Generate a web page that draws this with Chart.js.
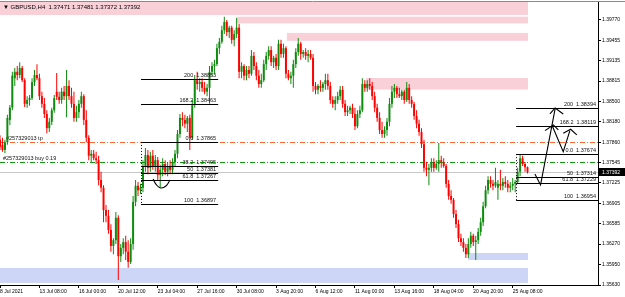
<!DOCTYPE html>
<html>
<head>
<meta charset="utf-8">
<script src="https://cdn.jsdelivr.net/npm/chart.js@4.4.0/dist/chart.umd.min.js"></script>
<style>
  html,body{margin:0;padding:0;background:#fff}
  #wrap{width:625px;height:297px;position:relative}
</style>
</head>
<body>
<div id="wrap"><canvas id="c" width="625" height="297"></canvas></div>
<script>
// GBPUSD H4 candles, one entry per bar (bar index = position on the time axis)
const symbol = 'GBPUSD,H4';
const opens = [
1.3790,1.3782,1.3774,1.3786,1.3821,1.3840,1.3886,1.3896,1.3891,1.3902,
1.3883,1.3846,1.3852,1.3855,1.3880,1.3891,1.3886,1.3858,1.3846,1.3830,
1.3808,1.3818,1.3836,1.3865,1.3857,1.3852,1.3865,1.3858,1.3874,1.3858,
1.3846,1.3824,1.3833,1.3846,1.3858,1.3821,1.3793,1.3765,1.3768,1.3761,
1.3758,1.3727,1.3715,1.3680,1.3671,1.3649,1.3624,1.3633,1.3668,1.3608,
1.3621,1.3630,1.3615,1.3599,1.3627,1.3693,1.3718,1.3711,1.3715,1.3749,
1.3766,1.3746,1.3765,1.3749,1.3758,1.3735,1.3743,1.3752,1.3740,1.3749,
1.3743,1.3755,1.3768,1.3799,1.3824,1.3821,1.3815,1.3824,1.3793,1.3844,
1.3883,1.3877,1.3880,1.3871,1.3865,1.3871,1.3896,1.3905,1.3908,1.3933,
1.3943,1.3961,1.3974,1.3958,1.3965,1.3946,1.3955,1.3965,1.3896,1.3905,
1.3890,1.3899,1.3893,1.3921,1.3905,1.3890,1.3877,1.3883,1.3908,1.3921,
1.3930,1.3911,1.3918,1.3905,1.3940,1.3924,1.3933,1.3893,1.3886,1.3890,
1.3908,1.3927,1.3940,1.3924,1.3927,1.3921,1.3924,1.3918,1.3874,1.3868,
1.3874,1.3871,1.3877,1.3883,1.3874,1.3852,1.3846,1.3852,1.3858,1.3868,
1.3846,1.3833,1.3836,1.3840,1.3830,1.3811,1.3830,1.3836,1.3877,1.3871,
1.3877,1.3874,1.3858,1.3840,1.3824,1.3805,1.3799,1.3805,1.3818,1.3846,
1.3865,1.3871,1.3861,1.3858,1.3865,1.3852,1.3871,1.3852,1.3846,1.3827,
1.3815,1.3802,1.3783,1.3746,1.3743,1.3746,1.3755,1.3746,1.3752,1.3758,
1.3755,1.3749,1.3721,1.3702,1.3696,1.3674,1.3658,1.3636,1.3630,1.3621,
1.3611,1.3627,1.3640,1.3630,1.3633,1.3646,1.3661,1.3686,1.3711,1.3727,
1.3721,1.3718,1.3715,1.3721,1.3718,1.3724,1.3721,1.3715,1.3718,1.3721,
1.3724,1.3740,1.3761,1.3752,1.37471];
const highs = [
1.3797,1.3793,1.3790,1.3829,1.3844,1.3896,1.3902,1.3905,1.3911,1.3905,
1.3886,1.3858,1.3860,1.3886,1.3899,1.3908,1.3893,1.3865,1.3855,1.3836,
1.3824,1.3840,1.3860,1.3894,1.3865,1.3871,1.3874,1.3899,1.3883,1.3871,
1.3865,1.3843,1.3852,1.3865,1.3861,1.3836,1.3797,1.3774,1.3774,1.3771,
1.3765,1.3740,1.3719,1.3688,1.3680,1.3658,1.3636,1.3677,1.3672,1.3627,
1.3636,1.3640,1.3633,1.3636,1.3702,1.3727,1.3724,1.3721,1.3758,1.3777,
1.3774,1.3771,1.3774,1.3766,1.3763,1.3751,1.3761,1.3758,1.3755,1.3758,
1.3761,1.3774,1.3805,1.3830,1.3833,1.3829,1.3827,1.3829,1.3852,1.3891,
1.3896,1.3886,1.3886,1.3880,1.3877,1.3905,1.3911,1.3915,1.3940,1.3949,
1.3968,1.3982,1.3977,1.3968,1.3968,1.3961,1.3980,1.3971,1.3911,1.3908,
1.3905,1.3905,1.3930,1.3927,1.3911,1.3899,1.3893,1.3915,1.3927,1.3936,
1.3936,1.3921,1.3924,1.3946,1.3946,1.3940,1.3936,1.3899,1.3896,1.3915,
1.3933,1.3949,1.3943,1.3930,1.3933,1.3930,1.3930,1.3924,1.3880,1.3877,
1.3883,1.3880,1.3893,1.3893,1.3880,1.3858,1.3858,1.3865,1.3874,1.3874,
1.3852,1.3843,1.3843,1.3846,1.3840,1.3836,1.3843,1.3886,1.3883,1.3883,
1.3886,1.3880,1.3865,1.3846,1.3833,1.3818,1.3811,1.3824,1.3855,1.3874,
1.3877,1.3874,1.3871,1.3868,1.3868,1.3880,1.3877,1.3858,1.3849,1.3836,
1.3821,1.3808,1.3790,1.3755,1.3752,1.3761,1.3761,1.3758,1.3785,1.3765,
1.3761,1.3752,1.3727,1.3711,1.3699,1.3680,1.3665,1.3643,1.3636,1.3627,
1.3636,1.3646,1.3643,1.3640,1.3652,1.3668,1.3693,1.3718,1.3733,1.3733,
1.3727,1.3746,1.3727,1.3743,1.3730,1.3733,1.3727,1.3724,1.3730,1.3727,
1.3746,1.3766,1.3765,1.3755,1.37481];
const lows = [
1.3774,1.3771,1.3769,1.3782,1.3813,1.3836,1.3874,1.3883,1.3886,1.3880,
1.3841,1.3840,1.3843,1.3852,1.3874,1.3883,1.3852,1.3840,1.3824,1.3800,
1.3802,1.3813,1.3832,1.3852,1.3846,1.3846,1.3852,1.3825,1.3852,1.3840,
1.3818,1.3818,1.3824,1.3840,1.3813,1.3786,1.3758,1.3755,1.3758,1.3752,
1.3719,1.3708,1.3661,1.3661,1.3643,1.3615,1.3611,1.3627,1.3571,1.3599,
1.3611,1.3602,1.3590,1.3596,1.3618,1.3686,1.3702,1.3705,1.3708,1.3740,
1.3736,1.3740,1.3743,1.3740,1.3727,1.3716,1.3733,1.3735,1.3733,1.3736,
1.3736,1.3749,1.3761,1.3793,1.3811,1.3808,1.3802,1.3774,1.3790,1.3840,
1.3868,1.3865,1.3865,1.3861,1.3858,1.3846,1.3890,1.3893,1.3905,1.3924,
1.3940,1.3955,1.3952,1.3949,1.3940,1.3936,1.3949,1.3886,1.3886,1.3883,
1.3883,1.3886,1.3890,1.3899,1.3883,1.3871,1.3871,1.3880,1.3899,1.3915,
1.3905,1.3902,1.3899,1.3899,1.3918,1.3918,1.3886,1.3883,1.3877,1.3871,
1.3902,1.3921,1.3915,1.3918,1.3915,1.3911,1.3915,1.3865,1.3861,1.3861,
1.3865,1.3865,1.3868,1.3868,1.3846,1.3840,1.3836,1.3846,1.3852,1.3840,
1.3827,1.3827,1.3830,1.3824,1.3805,1.3808,1.3824,1.3833,1.3865,1.3865,
1.3868,1.3852,1.3833,1.3818,1.3799,1.3793,1.3793,1.3796,1.3811,1.3840,
1.3855,1.3855,1.3855,1.3852,1.3846,1.3849,1.3846,1.3840,1.3821,1.3808,
1.3796,1.3777,1.3740,1.3733,1.3719,1.3740,1.3740,1.3743,1.3740,1.3746,
1.3746,1.3715,1.3696,1.3690,1.3668,1.3652,1.3630,1.3624,1.3615,1.3605,
1.3605,1.3621,1.3624,1.3602,1.3627,1.3640,1.3655,1.3683,1.3705,1.3715,
1.3711,1.3715,1.3696,1.3711,1.3711,1.3715,1.3708,1.3708,1.3711,1.3708,
1.3721,1.3733,1.3749,1.3740,1.37372];
const closes = [
1.3779,1.3774,1.3786,1.3824,1.3840,1.3890,1.3896,1.3891,1.3902,1.3883,
1.3846,1.3852,1.3855,1.3880,1.3891,1.3886,1.3858,1.3846,1.3830,1.3808,
1.3818,1.3836,1.3855,1.3857,1.3852,1.3865,1.3858,1.3874,1.3858,1.3846,
1.3824,1.3833,1.3846,1.3858,1.3821,1.3793,1.3765,1.3768,1.3761,1.3758,
1.3727,1.3715,1.3680,1.3671,1.3649,1.3624,1.3633,1.3668,1.3608,1.3621,
1.3630,1.3615,1.3599,1.3627,1.3693,1.3718,1.3711,1.3715,1.3749,1.3766,
1.3746,1.3765,1.3749,1.3758,1.3735,1.3743,1.3752,1.3740,1.3749,1.3743,
1.3755,1.3768,1.3799,1.3824,1.3821,1.3815,1.3824,1.3793,1.3844,1.3883,
1.3877,1.3880,1.3871,1.3865,1.3871,1.3896,1.3905,1.3908,1.3933,1.3943,
1.3961,1.3974,1.3958,1.3965,1.3946,1.3955,1.3965,1.3896,1.3905,1.3890,
1.3899,1.3893,1.3921,1.3905,1.3890,1.3877,1.3883,1.3908,1.3921,1.3930,
1.3911,1.3918,1.3905,1.3940,1.3924,1.3933,1.3893,1.3886,1.3890,1.3908,
1.3927,1.3940,1.3924,1.3927,1.3921,1.3924,1.3918,1.3874,1.3868,1.3874,
1.3871,1.3877,1.3883,1.3874,1.3852,1.3846,1.3852,1.3858,1.3868,1.3846,
1.3833,1.3836,1.3840,1.3830,1.3811,1.3830,1.3836,1.3877,1.3871,1.3877,
1.3874,1.3858,1.3840,1.3824,1.3805,1.3799,1.3805,1.3818,1.3846,1.3865,
1.3871,1.3861,1.3858,1.3865,1.3852,1.3871,1.3852,1.3846,1.3827,1.3815,
1.3802,1.3783,1.3746,1.3743,1.3746,1.3755,1.3746,1.3752,1.3758,1.3755,
1.3749,1.3721,1.3702,1.3696,1.3674,1.3658,1.3636,1.3630,1.3621,1.3611,
1.3627,1.3640,1.3630,1.3633,1.3646,1.3661,1.3686,1.3711,1.3727,1.3721,
1.3718,1.3724,1.3721,1.3718,1.3724,1.3721,1.3715,1.3718,1.3721,1.3724,
1.3740,1.3761,1.3752,1.3747,1.37392];

// axis ticks
const priceTicks = [1.39770,1.39455,1.39135,1.38815,1.38500,1.38180,1.37860,1.37545,1.37225,1.36905,1.36585,1.36270,1.35950,1.35630];
const timeTickBars = [0,16,32,48,64,80,96,112,128,144,160,176,192,208];
const timeTickLabels = ['8 Jul 2021','13 Jul 08:00','16 Jul 00:00','20 Jul 12:00','23 Jul 04:00','27 Jul 16:00','30 Jul 08:00','3 Aug 20:00','6 Aug 12:00','11 Aug 00:00','13 Aug 16:00','18 Aug 04:00','20 Aug 20:00','25 Aug 08:00'];

// supply / demand rectangles (bar index from..to, price high..low)
const zoneFrom = [0, 96.0, 116.4, 148.5, 0, 189.9];
const zoneTo   = [214.2, 214.2, 214.2, 214.2, 214.2, 214.2];
const zoneHigh = [1.40100, 1.39821, 1.39568, 1.38864, 1.35896, 1.36130];
const zoneLow  = [1.39848, 1.39718, 1.39445, 1.38683, 1.35662, 1.36021];
const zoneKind = ['supply','supply','supply','supply','demand','demand'];

// two fibonacci objects
const fibALevels = ['200','168.2','0.0','38.2','50','61.8','100'];
const fibAPrices = [1.38853,1.38463,1.37865,1.37495,1.37381,1.37267,1.36897];
const fibASpan = [57.2, 88.5];
const fibBLevels = ['200','168.2','0.0','50','61.8','100'];
const fibBPrices = [1.38394,1.38119,1.37674,1.37314,1.37229,1.36954];
const fibBSpan = [209.4, 242.6];

// open order
const orderTicket = '#257329013';
const tpPrice = 1.37865;
const buyPrice = 1.37553;
const buyLots = '0.19';

// hand drawn marks, [bar index, price]
const arrowMain       = [[217.0,1.37364],[219.3,1.37193],[225.2,1.38380]];
const arrowHeadTop    = [[223.1,1.38302],[225.2,1.38395],[228.5,1.38302]];
const arrowHeadMid    = [[221.1,1.38041],[224.5,1.38130],[226.5,1.38052]];
const arrowBranch     = [[224.2,1.38103],[228.5,1.37713],[231.2,1.38041]];
const arrowHeadBranch = [[228.5,1.38000],[231.5,1.38063],[234.0,1.37974]];
const smile           = [[62.1,1.37286],[63.5,1.37193],[65.3,1.37146],[67.3,1.37177],[69.0,1.37271]];

const X_MAX = 242.6, Y_MIN = 1.35630, Y_MAX = 1.40051;
const BULL = '#0e8c0e', BEAR = '#ff0000';
const FONT = "'Liberation Sans', Arial, sans-serif";
Chart.defaults.font.family = FONT;

const last = closes.length - 1;
const bid = closes[last];
const candleColor = c => closes[c.dataIndex] >= opens[c.dataIndex] ? BULL : BEAR;
const toPts = s => s.map(([i, p]) => ({ x: i, y: p }));

function hline(ctx, x0, x1, yy, color, width, dash) {
  ctx.save();
  ctx.strokeStyle = color; ctx.lineWidth = width; ctx.setLineDash(dash || []);
  const py = Math.round(yy) + 0.5;
  ctx.beginPath(); ctx.moveTo(x0, py); ctx.lineTo(x1, py); ctx.stroke();
  ctx.restore();
}

function drawFib(ctx, x, y, span, names, prices) {
  const x0 = x.getPixelForValue(span[0]), x1 = x.getPixelForValue(span[1]);
  ctx.font = '5.5px ' + FONT;
  ctx.textAlign = 'right'; ctx.textBaseline = 'bottom'; ctx.fillStyle = '#111';
  prices.forEach((p, k) => {
    const py = y.getPixelForValue(p);
    hline(ctx, x0, x1, py, '#000', 1.2);
    ctx.fillText(names[k] + '  ' + p.toFixed(5), x1 - 2, Math.round(py) - 0.5);
  });
  // dotted trend line between 0.0 and 100
  ctx.save();
  ctx.strokeStyle = '#000'; ctx.lineWidth = 1; ctx.setLineDash([1, 2]);
  const px = Math.round(x0) + 0.5;
  ctx.beginPath();
  ctx.moveTo(px, y.getPixelForValue(prices[names.indexOf('0.0')]));
  ctx.lineTo(px, y.getPixelForValue(prices[names.indexOf('100')]));
  ctx.stroke();
  ctx.restore();
}

const overlay = {
  id: 'overlay',
  beforeDatasetsDraw(chart) {
    const { ctx, chartArea: a, scales: { x, y } } = chart;
    ctx.save();
    ctx.beginPath(); ctx.rect(a.left, a.top, a.width, a.height); ctx.clip();
    zoneFrom.forEach((f, k) => {
      const x0 = x.getPixelForValue(f), x1 = x.getPixelForValue(zoneTo[k]);
      const y0 = y.getPixelForValue(zoneHigh[k]), y1 = y.getPixelForValue(zoneLow[k]);
      ctx.fillStyle = zoneKind[k] === 'supply' ? '#f9cfd8' : '#cdd6f6';
      ctx.fillRect(x0, y0, x1 - x0, y1 - y0);
    });
    hline(ctx, a.left, a.right, y.getPixelForValue(bid), '#c8c8c8', 1);
    hline(ctx, a.left, a.right, y.getPixelForValue(tpPrice), '#ff6633', 1, [5, 2, 1, 2]);
    hline(ctx, a.left, a.right, y.getPixelForValue(buyPrice), '#129812', 1, [5, 2, 1, 2]);
    ctx.font = '5.5px ' + FONT;
    ctx.fillStyle = '#111'; ctx.textAlign = 'left'; ctx.textBaseline = 'bottom';
    ctx.fillText(orderTicket + ' tp', a.left + 6, Math.round(y.getPixelForValue(tpPrice)) - 0.5);
    ctx.fillText(orderTicket + ' buy ' + buyLots, a.left + 3, Math.round(y.getPixelForValue(buyPrice)) - 0.5);
    ctx.restore();
  },
  afterDatasetsDraw(chart) {
    const { ctx, chartArea: a, scales: { x, y } } = chart;
    ctx.save();
    ctx.beginPath(); ctx.rect(a.left, a.top, a.width, a.height); ctx.clip();
    drawFib(ctx, x, y, fibASpan, fibALevels, fibAPrices);
    drawFib(ctx, x, y, fibBSpan, fibBLevels, fibBPrices);
    ctx.restore();
  },
  afterDraw(chart) {
    const { ctx, chartArea: a, scales: { y } } = chart;
    ctx.save();
    // window top border
    ctx.strokeStyle = '#8a8a8a'; ctx.lineWidth = 1;
    ctx.beginPath(); ctx.moveTo(0, 1.5); ctx.lineTo(chart.width, 1.5); ctx.stroke();
    // symbol + last bar OHLC
    ctx.font = '6px ' + FONT; ctx.fillStyle = '#000';
    ctx.textAlign = 'left'; ctx.textBaseline = 'middle';
    ctx.fillText('\u25BC ' + symbol + '  ' + [opens[last], highs[last], lows[last], closes[last]].map(v => v.toFixed(5)).join(' '), 3, 7.5);
    // bid price tag on the axis
    const py = Math.round(y.getPixelForValue(bid));
    ctx.fillStyle = '#000';
    ctx.fillRect(a.right + 1, py - 4, chart.width - a.right - 1, 8);
    ctx.fillStyle = '#fff'; ctx.font = '5px ' + FONT;
    ctx.fillText(bid.toFixed(5), a.right + 4, py + 0.5);
    ctx.restore();
  }
};

const bars = opens.map((o, i) => i);
const lineSet = (pts, tension) => ({
  type: 'line', data: toPts(pts), borderColor: '#000', borderWidth: 1.1,
  pointRadius: 0, tension: tension || 0, fill: false, order: 0
});

new Chart(document.getElementById('c'), {
  type: 'bar',
  data: {
    datasets: [
      { label: 'wick', data: bars.map(i => ({ x: i, y: [lows[i], highs[i]] })),
        backgroundColor: candleColor, grouped: false, maxBarThickness: 1, order: 2 },
      { label: 'body', data: bars.map(i => ({ x: i, y: [opens[i], closes[i]] })),
        backgroundColor: candleColor, grouped: false, categoryPercentage: 1, barPercentage: 0.8,
        minBarLength: 1, order: 1 },
      lineSet(arrowMain), lineSet(arrowHeadTop), lineSet(arrowHeadMid),
      lineSet(arrowBranch), lineSet(arrowHeadBranch), lineSet(smile, 0.45)
    ]
  },
  options: {
    responsive: false, animation: false, devicePixelRatio: 1,
    layout: { padding: { top: 2, left: 0, right: 0, bottom: 0 } },
    plugins: { legend: { display: false }, tooltip: { enabled: false } },
    scales: {
      x: {
        type: 'linear', min: 0, max: X_MAX, offset: false,
        afterBuildTicks: s => { s.ticks = timeTickBars.map(v => ({ value: v })); },
        afterFit: s => { s.height = 12; s.paddingLeft = 0; s.paddingRight = 0; },
        ticks: { callback: (v, i) => timeTickLabels[i], align: 'start', autoSkip: false,
                 maxRotation: 0, minRotation: 0, padding: 1, color: '#000', font: { size: 5 } },
        grid: { drawOnChartArea: false, offset: false, tickLength: 3, color: '#000' },
        border: { display: true, color: '#000' }
      },
      y: {
        type: 'linear', position: 'right', min: Y_MIN, max: Y_MAX, beginAtZero: false,
        afterBuildTicks: s => { s.ticks = priceTicks.map(v => ({ value: v })); },
        afterFit: s => { s.width = 27; s.paddingTop = 0; s.paddingBottom = 0; },
        ticks: { callback: v => v.toFixed(5), padding: 1, color: '#000', font: { size: 5 } },
        grid: { drawOnChartArea: false, tickLength: 3, color: '#000' },
        border: { display: true, color: '#000' }
      }
    }
  },
  plugins: [overlay]
});
</script>
</body>
</html>
